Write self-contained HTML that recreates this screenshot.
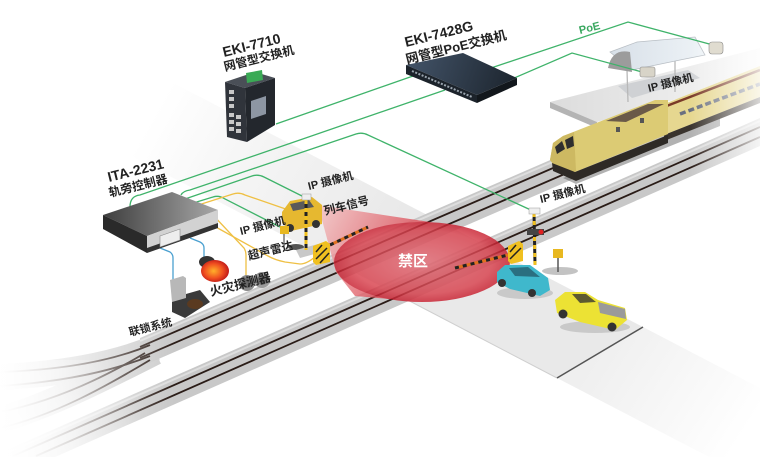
<!DOCTYPE html>
<html><head><meta charset="utf-8">
<style>
html,body{margin:0;padding:0;background:#fff;width:760px;height:457px;overflow:hidden;}
svg{display:block;overflow:hidden;}
text{font-family:"Liberation Sans","Noto Sans CJK SC",sans-serif;font-weight:bold;fill:#222;}
</style></head><body>
<svg width="760" height="457" viewBox="0 0 760 457" xmlns="http://www.w3.org/2000/svg">
<defs>
  <clipPath id="frame"><rect x="0" y="0" width="760" height="457"/></clipPath>
  <linearGradient id="road" gradientUnits="userSpaceOnUse" x1="150" y1="120" x2="380" y2="250">
    <stop offset="0" stop-color="#ffffff"/><stop offset="0.35" stop-color="#f6f6f6"/><stop offset="1" stop-color="#e9e9e9"/>
  </linearGradient>
  <linearGradient id="road2" gradientUnits="userSpaceOnUse" x1="600" y1="350" x2="740" y2="440">
    <stop offset="0" stop-color="#efefef"/><stop offset="1" stop-color="#ffffff"/>
  </linearGradient>
  <linearGradient id="fadeL" gradientUnits="userSpaceOnUse" x1="0" y1="0" x2="175" y2="0">
    <stop offset="0" stop-color="#fff" stop-opacity="1"/><stop offset="0.35" stop-color="#fff" stop-opacity="0.7"/><stop offset="1" stop-color="#fff" stop-opacity="0"/>
  </linearGradient>
  <linearGradient id="fadeB" gradientUnits="userSpaceOnUse" x1="0" y1="470" x2="130" y2="380">
    <stop offset="0" stop-color="#fff" stop-opacity="1"/><stop offset="1" stop-color="#fff" stop-opacity="0"/>
  </linearGradient>
  <linearGradient id="fadeR" gradientUnits="userSpaceOnUse" x1="690" y1="0" x2="760" y2="0">
    <stop offset="0" stop-color="#fff" stop-opacity="0"/><stop offset="1" stop-color="#fff" stop-opacity="0.8"/>
  </linearGradient>
  <linearGradient id="ita" gradientUnits="userSpaceOnUse" x1="103" y1="0" x2="218" y2="0">
    <stop offset="0" stop-color="#3e3e3e"/><stop offset="1" stop-color="#a8a8a8"/>
  </linearGradient>
  <linearGradient id="sw" gradientUnits="userSpaceOnUse" x1="406" y1="55" x2="517" y2="95">
    <stop offset="0" stop-color="#44556a"/><stop offset="1" stop-color="#1b232c"/>
  </linearGradient>
  <linearGradient id="cone" gradientUnits="userSpaceOnUse" x1="318" y1="205" x2="420" y2="260">
    <stop offset="0" stop-color="#f4c4c4"/><stop offset="1" stop-color="#d83a46"/>
  </linearGradient>
  <radialGradient id="ell" cx="0.5" cy="0.5" r="0.5">
    <stop offset="0" stop-color="#e06872"/><stop offset="0.8" stop-color="#d8404c"/><stop offset="1" stop-color="#c82030"/>
  </radialGradient>
  <radialGradient id="fire" cx="0.45" cy="0.5" r="0.55">
    <stop offset="0" stop-color="#ffb02a"/><stop offset="0.6" stop-color="#f05020"/><stop offset="1" stop-color="#c01818"/>
  </radialGradient>
  <linearGradient id="plat" gradientUnits="userSpaceOnUse" x1="550" y1="0" x2="760" y2="0">
    <stop offset="0" stop-color="#dcdcdc"/><stop offset="1" stop-color="#f6f6f6"/>
  </linearGradient>
  <linearGradient id="roof" gradientUnits="userSpaceOnUse" x1="610" y1="0" x2="705" y2="0">
    <stop offset="0" stop-color="#d8e0e8"/><stop offset="1" stop-color="#eef3f7"/>
  </linearGradient>
</defs>
<g clip-path="url(#frame)">

<!-- road -->
<polygon points="60,119 150,71 643,327 557,378" fill="url(#road)"/>
<polygon points="557,378 643,327 760,388 760,457 709,457" fill="url(#road2)"/>
<line x1="400" y1="296" x2="557" y2="378" stroke="#cfcfcf" stroke-width="1"/>
<line x1="557" y1="378" x2="643" y2="327" stroke="#555" stroke-width="1.5"/>

<!-- left switch ballast -->
<path d="M155,348 C110,366 60,374 0,377" stroke="#cdcdcd" stroke-width="26" fill="none"/>
<path d="M155,352 C100,380 50,405 0,420" stroke="#cdcdcd" stroke-width="26" fill="none"/>
<!-- upper track -->
<polygon points="140,338 760,69 760,98 140,367" fill="#c8c8c8"/>
<line x1="140" y1="341" x2="760" y2="72" stroke="#dedede" stroke-width="2"/>
<!-- lower track -->
<polygon points="0,453 760,118 760,146 55,457 0,457" fill="#c8c8c8"/>
<line x1="7" y1="453" x2="760" y2="121" stroke="#dedede" stroke-width="2"/>
<!-- rails -->
<g stroke="#2a1c17" stroke-width="1.8" fill="none">
  <line x1="140" y1="346.9" x2="760" y2="78.4"/>
  <line x1="140" y1="357.9" x2="760" y2="89.4"/>
  <line x1="13" y1="456" x2="760" y2="127"/>
  <line x1="36" y1="456" x2="760" y2="137"/>
  <path d="M150,345 C110,362 60,370 0,372"/>
  <path d="M150,356 C110,372 60,382 0,386"/>
  <path d="M145,353 C100,380 50,402 0,412"/>
  <path d="M150,360 C105,387 55,415 0,428"/>
</g>
<rect x="0" y="300" width="175" height="157" fill="url(#fadeL)"/>
<rect x="0" y="360" width="140" height="97" fill="url(#fadeB)"/>

<!-- platform & canopy -->
<polygon points="550,102 628,82 760,48 760,75 597,122" fill="url(#plat)"/>
<polygon points="550,102 597,122 597,128 550,108" fill="#b4b4b4"/>
<polygon points="618,86 688,70 700,78 632,98" fill="#c4c8cc" opacity="0.7"/>
<g stroke="#b8b8b8" stroke-width="1.3">
  <line x1="627" y1="70" x2="628" y2="102"/>
  <line x1="675" y1="58" x2="675" y2="92"/>
</g>
<polygon points="610,52 637,42 695,37 705,55 680,60 632,70" fill="url(#roof)" stroke="#b8bec4" stroke-width="0.8"/>
<path d="M608,68 Q612,48 630,52 L632,72 Z" fill="#9c9c9c"/>

<!-- train -->
<polygon points="563,178 672,136 720,118 720,126 576,184" fill="#555" opacity="0.45"/>
<polygon points="664,104 760,66 760,97 664,135" fill="#e6d790"/>
<line x1="664" y1="107" x2="760" y2="70" stroke="#7a3a28" stroke-width="2.5"/>
<line x1="680" y1="114" x2="760" y2="84" stroke="#6a7080" stroke-width="3.5" stroke-dasharray="6 3"/>
<polygon points="664,135 760,97 760,103 664,141" fill="#3a342e"/>
<polygon points="550,160 553,143 563,136 655,100 668,100 668,134 575,172 560,173" fill="#dccb74"/>
<polygon points="550,160 553,143 563,136 574,132 576,171 560,173" fill="#cdb962"/>
<polygon points="606,121 648,104 664,104 626,122" fill="#6a5a48"/>
<polygon points="555,147 562,141 565,149 557,154" fill="#2e2e2e"/>
<polygon points="565,140 573,136 574,146 567,149" fill="#2e2e2e"/>
<rect x="616" y="127" width="4" height="5" fill="#555"/>
<rect x="640" y="118" width="4" height="5" fill="#555"/>
<polygon points="552,163 575,172 668,135 668,143 576,181 553,171" fill="#2e2a26"/>
<rect x="690" y="30" width="70" height="170" fill="url(#fadeR)"/>

<!-- connectors -->
<g fill="none" stroke-width="1.3">
  <g stroke="#3fb36a">
    <path d="M276,124 L413,76"/>
    <path d="M130,207 Q130,196 140,195 L445,90"/>
    <path d="M181,195 Q183,191 190,190 L356,134 Q362,132 368,135 L533,211"/>
    <path d="M185,199 L252,176 Q258,174 264,177 L308,199"/>
    <path d="M190,204 L213,197 Q219,195 225,199 L280,227"/>
    <path d="M485,70 L628,22 L713,45"/>
    <path d="M505,82 L572,53 L642,72"/>
  </g>
  <g stroke="#efc044">
    <path d="M192,207 L233,194 Q239,192 245,195 L303,215"/>
    <path d="M212,214 L244,248 Q246,251 246,256 L246,280"/>
    <path d="M214,226 L268,256 Q275,260 285,262 L300,264 Q308,264 318,254"/>
  </g>
  <g stroke="#4aa0d0">
    <path d="M160,248 L170,252 Q173,254 173,258 L173,280"/>
    <path d="M190,238 L200,242 Q204,244 204,248 L204,262"/>
  </g>
</g>

<!-- red zone -->
<g opacity="0.82">
  <path d="M318,205 L430,222 L400,300 L355,296 L336,272 Z" fill="url(#cone)"/>
  <ellipse cx="422" cy="262" rx="88" ry="40" fill="url(#ell)"/>
</g>
<line x1="330" y1="245" x2="368" y2="227" stroke="#e07020" stroke-width="3"/>
<line x1="330" y1="245" x2="368" y2="227" stroke="#222" stroke-width="3" stroke-dasharray="4 4"/>
<line x1="455" y1="268" x2="508" y2="255" stroke="#e07020" stroke-width="3"/>
<line x1="455" y1="268" x2="508" y2="255" stroke="#222" stroke-width="3" stroke-dasharray="4 4"/>
<text x="398" y="266" style="fill:#fff;font-size:15px;">禁区</text>

<!-- EKI-7710 -->
<polygon points="225,82 255,72 275,78 245,88" fill="#4a4f57"/>
<polygon points="225,82 245,88 247,142 227,137" fill="#30343b"/>
<polygon points="245,88 275,78 275,125 247,142" fill="#23272d"/>
<polygon points="246,73 262,70 263,80 247,83" fill="#3aaa55"/>
<polygon points="251,101 266,96 266,114 251,119" fill="#8d96a3"/>
<g fill="#c8c8c8">
  <rect x="229" y="90" width="5" height="4"/><rect x="229" y="97" width="5" height="4"/><rect x="229" y="104" width="5" height="4"/>
  <rect x="229" y="113" width="5" height="4"/><rect x="236" y="115" width="5" height="4"/>
  <rect x="229" y="120" width="5" height="4"/><rect x="236" y="122" width="5" height="4"/>
  <rect x="229" y="127" width="5" height="4"/><rect x="236" y="129" width="5" height="4"/>
</g>

<!-- EKI-7428G -->
<polygon points="406,65 463,53 517,78 477,95" fill="url(#sw)"/>
<polygon points="406,65 477,95 477,103 406,74" fill="#1c232b"/>
<polygon points="477,95 517,78 517,85 477,103" fill="#12171c"/>
<line x1="412" y1="71" x2="472" y2="97" stroke="#9aa4ae" stroke-width="2" stroke-dasharray="2 1.5"/>

<!-- ITA-2231 -->
<polygon points="103,215 172,192 218,210 147,236" fill="url(#ita)"/>
<polygon points="103,215 147,236 147,253 103,229" fill="#2a2a2a"/>
<polygon points="147,236 218,210 218,228 147,253" fill="#d2d2d2"/>
<polygon points="147,248 218,223 218,228 147,253" fill="#333"/>
<polygon points="160,236 180,229 180,240 160,247" fill="#eee" stroke="#888" stroke-width="0.6"/>

<!-- fire detector & interlock -->
<ellipse cx="207" cy="262" rx="8" ry="6" fill="#333"/>
<ellipse cx="215" cy="271" rx="14" ry="11" fill="url(#fire)"/>
<circle cx="247" cy="283" r="8" fill="#8a8a8a"/><circle cx="247" cy="283" r="5" fill="#666"/>
<circle cx="262" cy="280" r="8" fill="#9a9a9a"/><circle cx="262" cy="280" r="5" fill="#6e6e6e"/>
<polygon points="172,298 200,290 210,302 185,318 172,312" fill="#3a3a3a"/>
<ellipse cx="195" cy="304" rx="8" ry="5" fill="#5a3a20"/>
<polygon points="170,280 183,276 186,278 186,298 172,302" fill="#b8b8b8"/>

<!-- left signal area -->
<ellipse cx="296" cy="247" rx="8" ry="3" fill="#555"/>
<polygon points="296,250 318,244 322,252 300,258" fill="#c8c8c8"/>
<polygon points="282,212 290,201 312,197 322,205 322,224 291,231 282,223" fill="#e6b830"/>
<polygon points="290,204 309,200 314,207 293,211" fill="#5a5a5a"/>
<circle cx="290" cy="228" r="4" fill="#333"/><circle cx="316" cy="224" r="4" fill="#333"/>
<line x1="306" y1="200" x2="306" y2="250" stroke="#222" stroke-width="3"/>
<line x1="306" y1="200" x2="306" y2="250" stroke="#f0c020" stroke-width="3" stroke-dasharray="4 4"/>
<rect x="302" y="194" width="9" height="6" fill="#eee" stroke="#999" stroke-width="0.5"/>
<polygon points="313,246 326,241 330,244 330,262 316,265 313,262" fill="#f0c020"/>
<g stroke="#222" stroke-width="1.5"><line x1="316" y1="252" x2="322" y2="245"/><line x1="316" y1="259" x2="327" y2="248"/><line x1="320" y1="263" x2="329" y2="253"/></g>
<line x1="284" y1="232" x2="284" y2="246" stroke="#777" stroke-width="1.5"/>
<rect x="280" y="226" width="9" height="8" fill="#e8b820"/>

<!-- right barrier -->
<ellipse cx="560" cy="271" rx="18" ry="4" fill="#888" opacity="0.5"/>
<line x1="534" y1="213" x2="535" y2="265" stroke="#222" stroke-width="3"/>
<line x1="534" y1="213" x2="535" y2="265" stroke="#f0c020" stroke-width="3" stroke-dasharray="4 4"/>
<rect x="529" y="208" width="11" height="6" fill="#eee" stroke="#999" stroke-width="0.5"/>
<rect x="527" y="229" width="17" height="6" fill="#444"/>
<circle cx="541" cy="232" r="2.5" fill="#e02020"/>
<polygon points="508,246 519,241 523,244 523,261 511,264 508,261" fill="#f0c020"/>
<g stroke="#222" stroke-width="1.5"><line x1="510" y1="252" x2="516" y2="245"/><line x1="510" y1="259" x2="521" y2="248"/></g>
<line x1="558" y1="256" x2="558" y2="272" stroke="#555" stroke-width="1.5"/>
<rect x="553" y="249" width="10" height="9" fill="#e8b820"/>

<!-- cyan car -->
<ellipse cx="525" cy="293" rx="28" ry="6" fill="#aaa" opacity="0.5"/>
<polygon points="497,272 505,265 530,265 548,278 550,290 540,296 510,289 497,282" fill="#3fb8cc"/>
<polygon points="509,268 528,267 540,277 515,276" fill="#2a6f80"/>
<circle cx="502" cy="283" r="4" fill="#333"/><circle cx="532" cy="293" r="4" fill="#333"/>
<!-- yellow truck -->
<ellipse cx="595" cy="327" rx="35" ry="6" fill="#aaa" opacity="0.5"/>
<polygon points="555,300 565,292 585,292 598,300 625,308 627,320 615,330 580,322 557,313" fill="#ece234"/>
<polygon points="598,302 625,309 626,319 600,313" fill="#9a9a9a"/>
<polygon points="572,294 586,294 596,302 580,303" fill="#5d5a30"/>
<circle cx="563" cy="314" r="4.5" fill="#333"/><circle cx="612" cy="327" r="4.5" fill="#333"/>

<!-- cameras -->
<rect x="640" y="67" width="15" height="10" rx="2" fill="#d8d4c8" stroke="#888" stroke-width="0.6"/>
<rect x="709" y="42" width="14" height="12" rx="3" fill="#e0dcd0" stroke="#888" stroke-width="0.6"/>

<!-- labels -->
<text transform="translate(224,57) rotate(-14)" style="font-size:14px;">EKI-7710</text>
<text transform="translate(225,71) rotate(-14)" style="font-size:12px;">网管型交换机</text>
<text transform="translate(406,47) rotate(-14)" style="font-size:14px;">EKI-7428G</text>
<text transform="translate(407,64) rotate(-14)" style="font-size:13px;">网管型PoE交换机</text>
<text transform="translate(580,34) rotate(-14)" style="font-size:11px;fill:#3aa860;">PoE</text>
<text transform="translate(109,182) rotate(-14)" style="font-size:14px;">ITA-2231</text>
<text transform="translate(110,197) rotate(-14)" style="font-size:12px;">轨旁控制器</text>
<text transform="translate(309,190) rotate(-14)" style="font-size:11px;">IP 摄像机</text>
<text transform="translate(325,215) rotate(-14)" style="font-size:11.5px;">列车信号</text>
<text transform="translate(241,235) rotate(-14)" style="font-size:11px;">IP 摄像机</text>
<text transform="translate(249,260) rotate(-14)" style="font-size:11.5px;">超声雷达</text>
<text transform="translate(211,296) rotate(-14)" style="font-size:12.5px;">火灾探测器</text>
<text transform="translate(130,336) rotate(-14)" style="font-size:11px;">联锁系统</text>
<text transform="translate(541,203) rotate(-14)" style="font-size:11px;">IP 摄像机</text>
<text transform="translate(649,92) rotate(-14)" style="font-size:11px;">IP 摄像机</text>
</g>
</svg>
</body></html>
